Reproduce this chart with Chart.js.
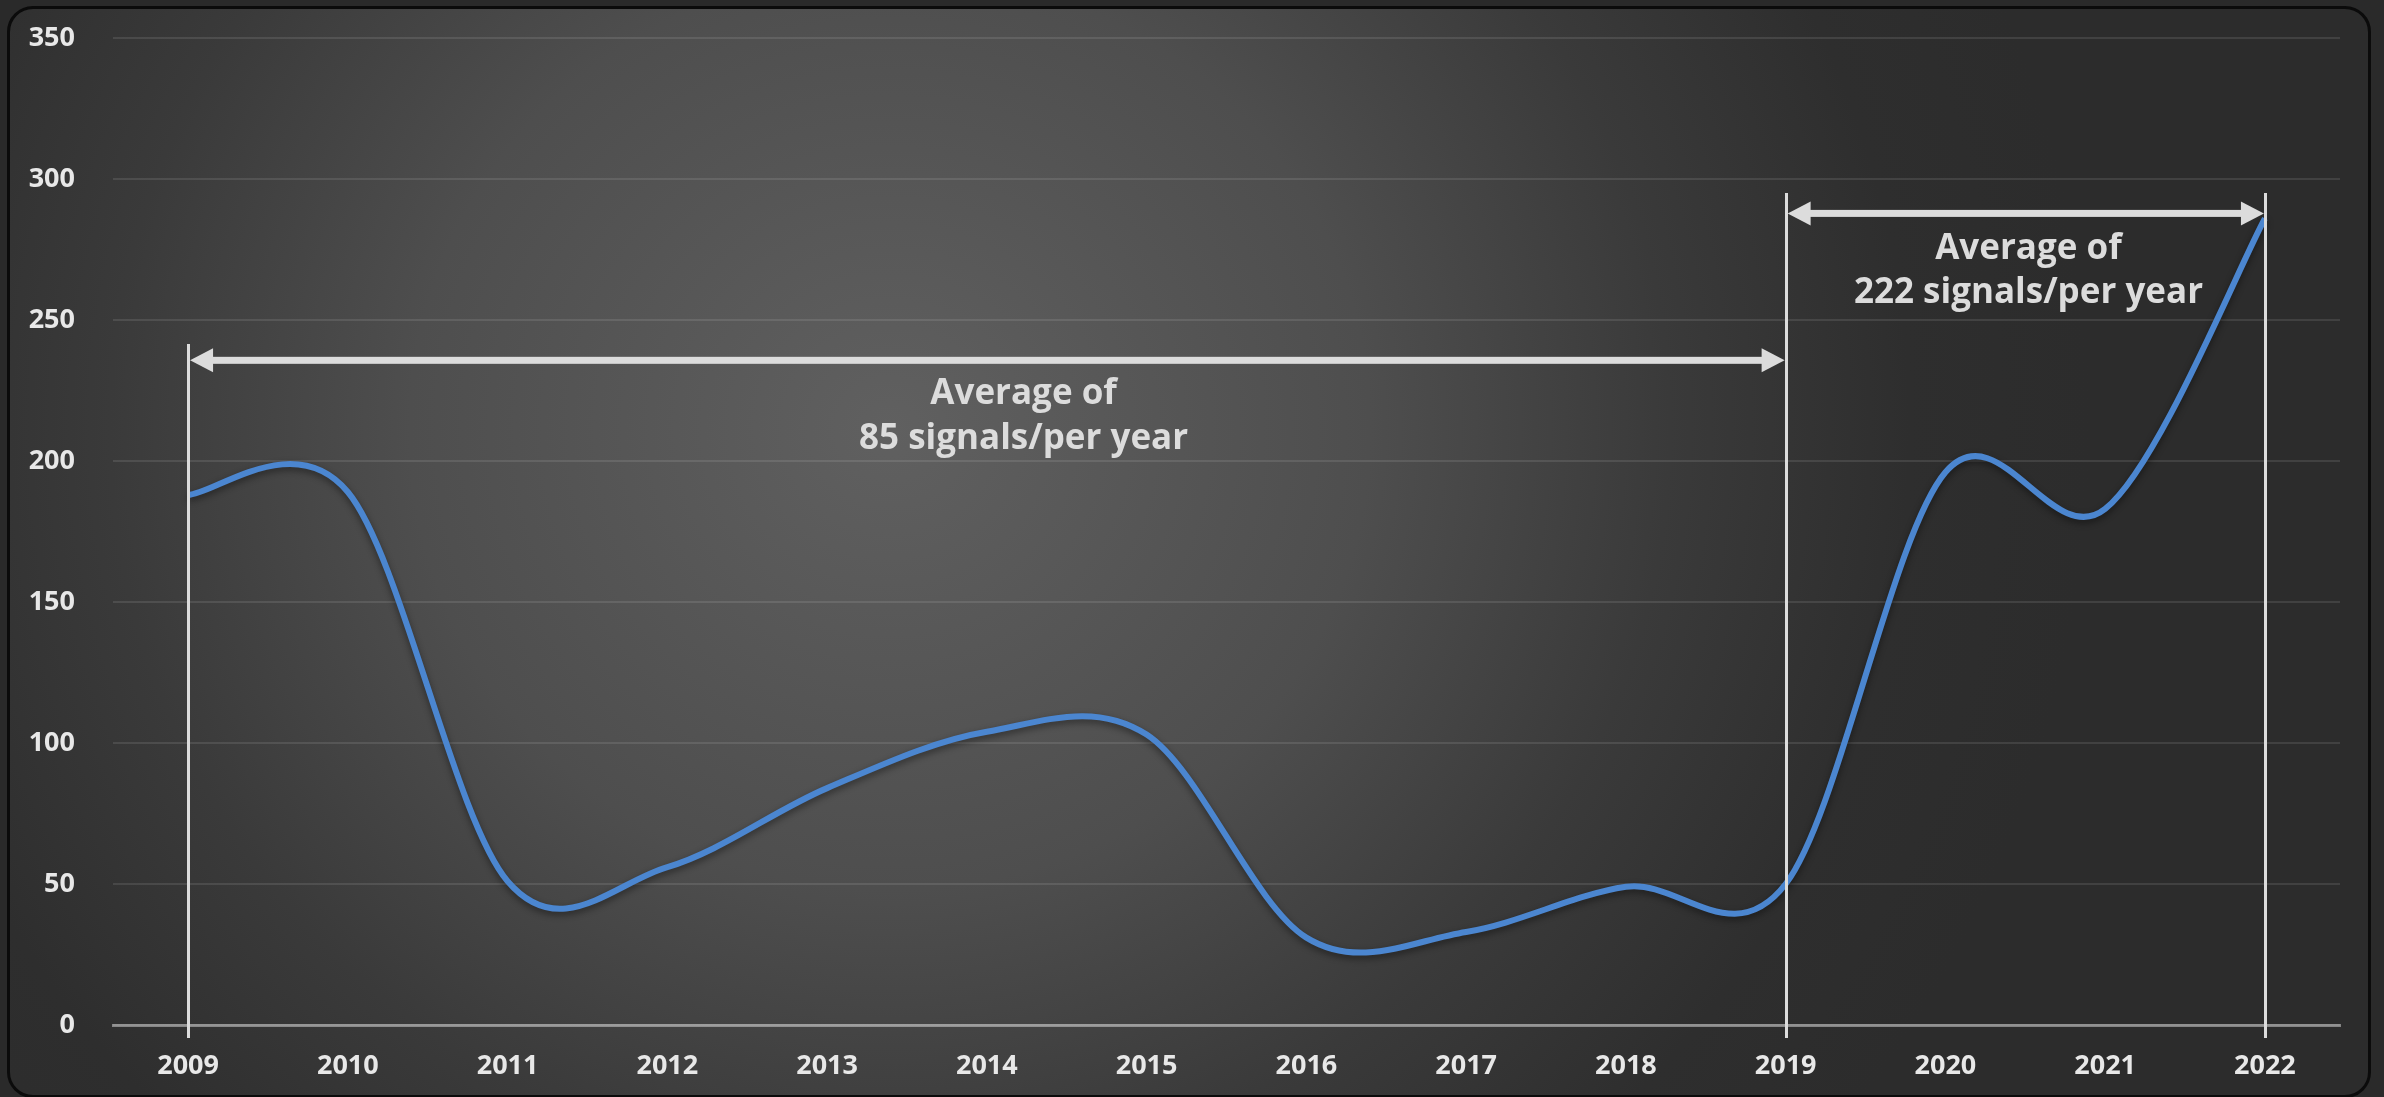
<!DOCTYPE html>
<html>
<head>
<meta charset="utf-8">
<script src="https://cdn.jsdelivr.net/npm/chart.js@4.4.1/dist/chart.umd.min.js"></script>
<style>
  html, body { margin: 0; padding: 0; background: #2a2a2a; overflow: hidden; }
  body { width: 2384px; height: 1097px; position: relative; }
  .card {
    position: absolute; left: 7px; top: 6px; width: 2358px; height: 1086px;
    border: 3px solid #0b0b0b; border-radius: 26px;
    background: radial-gradient(ellipse 1200px 1150px at 880px 420px, #606060 0%, #4e4e4e 40%, #3a3a3a 65%, #2e2e2e 85%, #2c2c2c 100%);
  }
  canvas { position: absolute; left: 0; top: 0; }
</style>
</head>
<body>
<div class="card"></div>
<canvas id="signalsChart" width="2384" height="1097"></canvas>
<script>
const years = ["2009", "2010", "2011", "2012", "2013", "2014", "2015", "2016", "2017", "2018", "2019", "2020", "2021", "2022"];
const signals = [188, 189, 51, 56, 84, 104, 103, 31, 33, 49, 50, 196, 183, 286];
const yMin = 0;
const yMax = 350;
const yStep = 50;

// marker lines and the two averaged periods
const markerYears = ["2009", "2019", "2022"];
const markerTops = [241.5, 295, 295];
const periodStarts = ["2009", "2019"];
const periodEnds = ["2019", "2022"];
const periodLevels = [235.7, 287.8];
const periodLabels = [["Average of", "85 signals/per year"], ["Average of", "222 signals/per year"]];
const labelAnchors = [5.23, 11.52];
const labelLevels = [[223.8, 207.8], [275.3, 259.5]];

const LIGHT = "#dcdcdc";
const FONT = "'Open Sans', 'Noto Sans', sans-serif";

// Excel style smoothing: control points at 1/6 of the neighbour chord
const excelSmoothing = {
  id: "excelSmoothing",
  beforeDatasetsDraw(chart) {
    chart.getSortedVisibleDatasetMetas().forEach((meta) => {
      const pts = meta.data;
      pts.forEach((pt, i) => {
        const prev = pts[i - 1] || pt;
        const next = pts[i + 1] || pt;
        const dx = (next.x - prev.x) / 6;
        const dy = (next.y - prev.y) / 6;
        pt.cp1x = pt.x - dx;
        pt.cp1y = pt.y - dy;
        pt.cp2x = pt.x + dx;
        pt.cp2y = pt.y + dy;
      });
      meta.dataset._pointsUpdated = true;
      meta.dataset._path = undefined;
    });
  },
};

const lineShadow = {
  id: "lineShadow",
  beforeDatasetsDraw(chart) {
    const ctx = chart.ctx;
    ctx.save();
    ctx.shadowColor = "rgba(0, 0, 0, 0.45)";
    ctx.shadowBlur = 7;
    ctx.shadowOffsetY = 3;
  },
  afterDatasetsDraw(chart) {
    chart.ctx.restore();
  },
};

function drawArrowHead(ctx, tipX, y, dir) {
  const len = 23, half = 12;
  ctx.beginPath();
  ctx.moveTo(tipX, y);
  ctx.lineTo(tipX - dir * len, y - half);
  ctx.lineTo(tipX - dir * len, y + half);
  ctx.closePath();
  ctx.fill();
}

const periodMarkers = {
  id: "periodMarkers",
  afterDatasetsDraw(chart) {
    const { ctx, scales: { x, y }, chartArea } = chart;
    ctx.save();
    ctx.fillStyle = LIGHT;
    ctx.strokeStyle = LIGHT;

    // vertical markers
    ctx.lineWidth = 3;
    markerYears.forEach((yr, i) => {
      const px = Math.round(x.getPixelForValue(years.indexOf(yr))) + 0.5;
      ctx.beginPath();
      ctx.moveTo(px, y.getPixelForValue(markerTops[i]));
      ctx.lineTo(px, chartArea.bottom + 13);
      ctx.stroke();
    });

    // double arrows
    periodStarts.forEach((start, i) => {
      const x1 = x.getPixelForValue(years.indexOf(start)) + 2;
      const x2 = x.getPixelForValue(years.indexOf(periodEnds[i])) - 1;
      const py = y.getPixelForValue(periodLevels[i]);
      ctx.fillRect(x1 + 20, py - 3.5, x2 - x1 - 40, 7);
      drawArrowHead(ctx, x1, py, -1);
      drawArrowHead(ctx, x2, py, 1);
    });

    // labels
    ctx.font = "700 35px " + FONT;
    ctx.textAlign = "center";
    ctx.textBaseline = "middle";
    periodLabels.forEach((lines, i) => {
      const px = x.getPixelForValue(labelAnchors[i]);
      lines.forEach((txt, j) => {
        ctx.fillText(txt, px, y.getPixelForValue(labelLevels[i][j]));
      });
    });
    ctx.restore();
  },
};

const ctx = document.getElementById("signalsChart").getContext("2d");
new Chart(ctx, {
  type: "line",
  data: {
    datasets: [
      {
        label: "Signals",
        data: signals.map((v, i) => ({ x: i, y: v })),
        borderColor: "#4b86d0",
        borderWidth: 6,
        pointRadius: 0,
        tension: 0.33,
        fill: false,
      },
    ],
  },
  options: {
    responsive: false,
    animation: false,
    layout: { padding: { left: 8, right: 44, top: 38, bottom: 0 } },
    plugins: {
      legend: { display: false },
      tooltip: { enabled: false },
    },
    scales: {
      x: {
        type: "linear",
        min: -0.47,
        max: years.length - 1 + 0.47,
        grid: { display: false, drawTicks: false },
        border: { display: true, color: "rgba(255, 255, 255, 0.42)", width: 3 },
        ticks: {
          stepSize: 1,
          includeBounds: false,
          autoSkip: false,
          maxRotation: 0,
          callback: (v) => years[v] ?? "",
          color: "#e8e8e8",
          font: { family: FONT, size: 27, weight: "700" },
          padding: 25,
        },
        afterFit(scale) { scale.height = 72; },
      },
      y: {
        min: yMin,
        max: yMax,
        grid: {
          color: "rgba(255, 255, 255, 0.1)",
          lineWidth: 2,
          drawTicks: true,
          tickLength: 38,
          tickColor: "transparent",
        },
        border: { display: false },
        ticks: {
          stepSize: yStep,
          color: "#e8e8e8",
          font: { family: FONT, size: 27, weight: "700" },
          padding: 0,
        },
        afterFit(scale) { scale.width = 105; },
      },
    },
  },
  plugins: [excelSmoothing, lineShadow, periodMarkers],
});
</script>
</body>
</html>
